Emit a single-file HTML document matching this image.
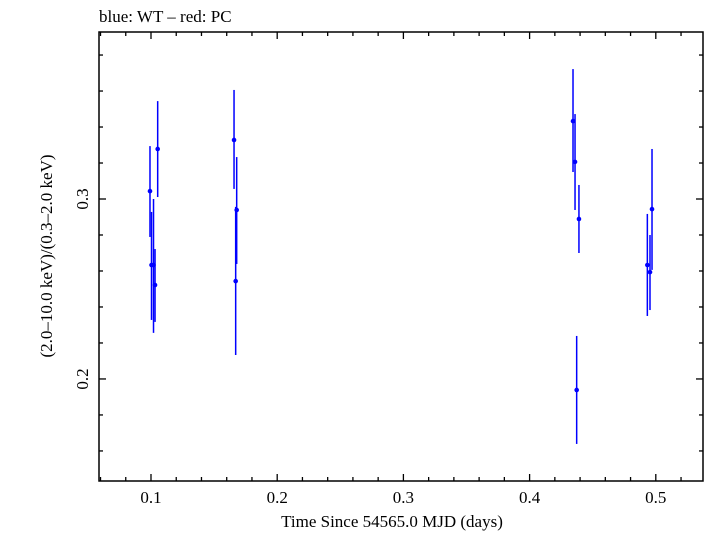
<!DOCTYPE html>
<html><head><meta charset="utf-8"><style>
body{margin:0;background:#fff}
svg text{font-family:"Liberation Serif",serif;fill:#000}
</style></head><body>
<svg id="chart" width="705" height="532" xmlns="http://www.w3.org/2000/svg">
<text x="99" y="22" font-size="17">blue: WT – red: PC</text>
<rect x="99" y="32" width="604" height="449" fill="none" stroke="#000" stroke-width="1.5"/>
<g id="ticks"></g>
<g id="marks"></g>
<text x="392" y="527" font-size="17" text-anchor="middle">Time Since 54565.0 MJD (days)</text>
<text transform="translate(52,256) rotate(-90)" font-size="17" text-anchor="middle">(2.0–10.0 keV)/(0.3–2.0 keV)</text>
</svg>
<script>
const xVals=[0.0992,0.1053,0.1004,0.102,0.1032,0.1658,0.1679,0.1671,0.4344,0.436,0.4391,0.4373,0.4933,0.4954,0.497];
const yVals=[0.3044,0.3278,0.2633,0.2633,0.2522,0.3328,0.2939,0.2544,0.3433,0.3206,0.2889,0.1939,0.2633,0.2594,0.2944];
const yHi=[0.3294,0.3544,0.2928,0.3,0.2722,0.3606,0.3233,0.2956,0.3722,0.3472,0.3078,0.2239,0.2917,0.28,0.3278];
const yLo=[0.2789,0.3011,0.2328,0.2256,0.2317,0.3056,0.2639,0.2133,0.315,0.2939,0.27,0.1639,0.235,0.2383,0.2606];
const xTicks=[0.1,0.2,0.3,0.4,0.5];
const yTicks=[0.2,0.3];
const L=99,R=703,T=32,B=481,X0=0.0588,X1=0.5374,Y0=0.1433,Y1=0.3928;
const sx=v=>L+(v-X0)/(X1-X0)*(R-L);
const sy=v=>B-(v-Y0)/(Y1-Y0)*(B-T);
const NS="http://www.w3.org/2000/svg";
const tg=document.getElementById('ticks'),mg=document.getElementById('marks');
function ln(g,x1,y1,x2,y2,c,w){const e=document.createElementNS(NS,'line');e.setAttribute('x1',x1);e.setAttribute('y1',y1);e.setAttribute('x2',x2);e.setAttribute('y2',y2);e.setAttribute('stroke',c);e.setAttribute('stroke-width',w);g.appendChild(e);return e;}
for(let i=3;i<=26;i++){const v=i*0.02;if(v<X0||v>X1)continue;const x=sx(v);const maj=Math.abs(v*10-Math.round(v*10))<1e-6;const l=maj?7:4;
const a=ln(tg,x,B,x,B-l,'#000',1.3);


ln(tg,x,T,x,T+l,'#000',1.3);}
for(let i=7;i<=19;i++){const v=i*0.02;if(v<Y0||v>Y1)continue;const y=sy(v);const maj=Math.abs(v*10-Math.round(v*10))<1e-6;const l=maj?7:4;
const a=ln(tg,L,y,L+l,y,'#000',1.3);


ln(tg,R,y,R-l,y,'#000',1.3);}
xTicks.forEach(v=>{const t=document.createElementNS(NS,'text');t.setAttribute('x',sx(v));t.setAttribute('y',503);t.setAttribute('font-size','17');t.setAttribute('text-anchor','middle');t.textContent=String(v);


tg.appendChild(t);});
yTicks.forEach(v=>{const t=document.createElementNS(NS,'text');t.setAttribute('transform','translate(88,'+sy(v)+') rotate(-90)');t.setAttribute('font-size','17');t.setAttribute('text-anchor','middle');t.textContent=String(v);


tg.appendChild(t);});
xVals.forEach((v,i)=>{const x=sx(v);
const e=ln(mg,x,sy(yHi[i]),x,sy(yLo[i]),'#0000ff',1.5);


const c=document.createElementNS(NS,'circle');c.setAttribute('cx',x);c.setAttribute('cy',sy(yVals[i]));c.setAttribute('r',2.3);c.setAttribute('fill','#0000ff');


mg.appendChild(c);});
</script>
</body></html>
